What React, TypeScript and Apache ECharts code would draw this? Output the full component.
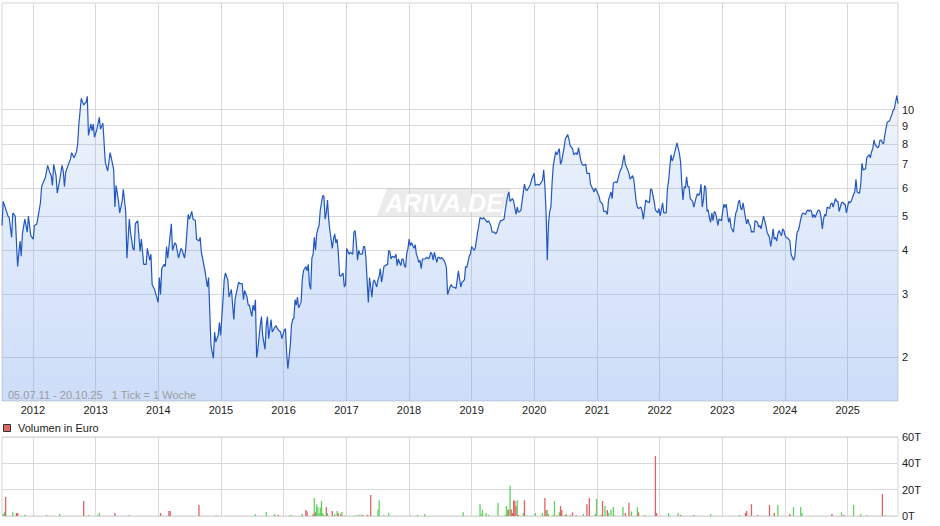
import React, { useEffect, useRef } from 'react';
import * as echarts from 'echarts';

// Weekly closing prices: [week index since 05.07.2011, price]
const priceData: [number, number][] = [
  [0,4.7],[1,5.5],[5,5.0],[6,4.95],[8,4.35],[9,5.1],[11,5.0],[12,4.25],[13,3.6],[15,4.25],[16,3.85],[17,4.45],[19,4.9],[21,4.5],[22,5.0],[24,4.4],[26,4.3],[27,4.7],[29,4.75],[31,5.2],[32,5.45],[33,6.05],[35,6.3],[36,6.4],[38,6.95],[40,6.6],[41,6.5],[42,6.1],[43,7.0],[45,6.5],[46,5.8],[48,6.3],[50,6.95],[51,6.7],[52,6.05],[53,6.65],[55,6.95],[57,7.25],[58,7.55],[60,7.3],[62,7.6],[63,8.0],[64,9.1],[66,10.75],[68,10.3],[70,10.5],[71,10.9],[72,8.45],[74,9.1],[75,8.7],[76,9.1],[77,8.35],[79,8.8],[81,9.5],[82,8.8],[84,9.15],[86,7.1],[88,6.7],[90,7.55],[91,7.3],[93,6.75],[94,5.3],[95,6.1],[97,5.5],[98,5.1],[100,5.5],[101,5.95],[103,5.15],[104,3.8],[106,4.9],[107,4.5],[109,4.05],[110,4.0],[111,4.75],[113,4.85],[115,3.97],[116,4.3],[117,3.97],[118,3.65],[120,3.65],[121,4.05],[123,3.75],[124,3.9],[125,3.2],[127,3.1],[130,2.85],[131,3.35],[132,3.0],[133,3.55],[135,3.65],[136,3.6],[137,4.1],[138,3.8],[141,4.75],[142,4.0],[144,4.2],[145,4.15],[147,3.8],[149,4.05],[150,4.0],[152,3.8],[153,4.05],[155,5.05],[156,4.9],[158,5.15],[159,4.9],[161,4.85],[162,4.3],[164,4.25],[165,4.35],[166,3.95],[168,3.65],[169,3.5],[171,3.15],[172,3.35],[174,2.15],[176,1.98],[177,2.35],[178,2.2],[180,2.3],[181,2.5],[182,2.3],[184,2.9],[185,3.3],[186,3.45],
  [188,3.3],[189,2.95],[191,3.1],[193,2.55],[194,2.9],[197,3.25],[198,3.22],[200,3.22],[201,2.9],[202,3.08],[204,2.95],[205,2.8],[206,2.8],[208,2.6],[209,2.8],[210,2.7],[211,2.9],[212,1.99],[213,2.1],[215,2.45],[216,2.6],[217,2.3],[219,2.1],[220,2.45],[221,2.6],[222,2.25],[224,2.55],[225,2.35],[227,2.42],[228,2.45],[230,2.38],[232,2.35],[233,2.25],[235,2.38],[236,2.4],[237,2.05],[238,1.85],[240,2.15],[241,2.45],[242,2.55],[243,2.57],[244,2.9],[245,2.8],[246,2.95],[247,2.75],[249,2.85],[250,3.3],[251,3.5],[253,3.6],[254,3.5],[255,3.65],[256,3.2],[257,3.1],[258,3.8],[259,3.9],[260,4.35],[261,4.0],[262,4.45],[263,4.6],[264,4.7],[265,5.2],[267,5.7],[268,5.7],[269,4.9],[270,5.1],[271,5.55],[272,4.9],[273,4.55],[275,4.05],[276,4.3],[277,4.45],[278,4.2],[279,4.3],[280,3.95],[281,3.4],[282,3.38],[284,3.45],[285,3.15],[286,3.2],[287,4.05],[289,3.9],[290,3.95],[292,3.9],[293,4.5],[294,4.55],[295,4.2],[296,3.75],[297,4.0],[298,3.9],[300,3.9],[301,4.1],[302,4.1],[303,3.8],[305,2.85],[306,3.35],[307,3.15],[308,2.95],[309,3.25],[310,3.3],[312,3.15],[313,3.3],[314,3.38],[315,3.55],[316,3.25],[317,3.4],[318,3.6],[319,3.62],[321,3.65],[322,4.0],[323,3.95],[324,3.78],[325,3.85],[327,3.82],[328,3.9],[329,3.62],[330,3.78],[332,3.62],[333,3.78],[334,3.78],[335,3.62],[336,3.58],[337,3.92],[338,4.05],[339,4.3],[340,4.12],[341,4.2],[343,4.05],[344,4.15],[345,3.9],[346,3.82],[347,3.7],[348,3.75],[349,3.55],[350,3.78],[352,3.78],[354,3.82],[355,3.78],[356,3.82],[357,3.95],[358,3.9],[359,3.75],[360,3.95],[362,3.7],[363,3.82],[364,3.82],[365,3.78],[366,3.82],[367,3.78],[368,3.75],[369,3.68],[370,3.58],[371,3.0],[373,3.15],[374,3.2],[375,3.15],[376,3.15],[378,3.12],
  [379,3.3],[380,3.5],[382,3.15],[383,3.25],[385,3.3],[386,3.6],[387,3.58],[389,3.85],[390,3.9],[391,4.1],[393,4.0],[394,4.05],[396,4.5],[397,4.7],[398,4.95],[400,4.9],[401,4.95],[403,4.85],[404,4.8],[405,4.85],[407,4.7],[408,4.5],[410,4.5],[411,4.45],[412,4.5],[414,4.75],[415,4.85],[416,4.85],[418,4.9],[419,5.2],[421,5.7],[422,5.85],[423,5.5],[425,5.6],[426,5.5],[428,5.05],[429,5.3],[430,5.12],[432,5.18],[433,5.5],[435,6.15],[436,5.95],[437,5.9],[439,6.05],[440,6.15],[441,6.35],[443,6.6],[444,6.1],[446,6.15],[447,6.1],[448,6.15],[450,6.3],[451,6.75],[452,6.1],[453,5.1],[454,3.75],[455,4.75],[456,5.15],[457,5.3],[458,6.2],[459,6.95],[461,7.6],[462,7.45],[464,7.75],[465,7.0],[466,7.15],[468,7.8],[469,8.25],[471,8.5],[472,8.25],[473,7.9],[475,7.75],[476,7.45],[478,7.55],[479,7.45],[480,7.8],[482,7.15],[483,7.0],[484,6.95],[486,7.0],[487,6.6],[489,6.6],[490,6.15],[491,6.05],[493,5.85],[494,6.0],[496,5.8],[497,5.7],[498,5.5],[500,5.4],[501,5.15],[503,5.15],[504,5.05],[505,5.55],[507,5.85],[508,5.6],[509,6.2],[511,6.25],[512,6.2],[514,6.6],[515,6.75],[516,6.85],[518,7.45],[519,7.0],[521,6.75],[522,6.6],[523,6.35],[525,6.5],[526,6.35],[528,5.5],[529,5.3],[530,5.25],[532,5.3],[533,5.15],[534,4.9],[536,5.55],[537,5.5],[539,5.45],[540,5.95],[541,5.95],[543,5.5],[544,5.2],[546,5.1],[547,5.25],[548,5.0],[550,5.45],[551,5.1],[553,5.1],[554,5.95],[555,6.3],[557,7.45],[558,7.15],[559,7.3],[561,7.8],[562,8.05],
  [564,7.5],[565,7.1],[566,6.15],[567,5.55],[568,6.05],[569,6.0],[570,6.45],[571,6.05],[572,6.05],[573,5.6],[574,5.55],[575,5.5],[576,5.3],[578,5.65],[579,5.78],[580,5.72],[581,5.78],[582,6.15],[583,5.3],[584,5.55],[585,6.1],[586,6.0],[587,5.15],[588,5.2],[589,4.95],[590,4.8],[591,5.1],[592,4.85],[593,5.15],[594,5.1],[595,4.95],[596,4.7],[597,4.9],[599,4.85],[600,5.15],[601,5.4],[602,5.28],[603,5.4],[604,5.05],[605,4.8],[606,4.95],[607,4.65],[609,4.5],[610,4.85],[611,5.1],[612,5.2],[613,5.45],[614,5.55],[615,5.28],[616,5.2],[617,5.45],[619,4.95],[620,4.75],[621,4.9],[622,4.75],[623,4.7],[624,4.5],[625,4.52],[626,4.5],[627,4.85],[629,4.8],[630,4.65],[631,4.7],[632,4.6],[633,4.8],[634,5.0],[635,4.85],[636,4.7],[637,4.5],[639,4.35],[640,4.1],[641,4.3],[642,4.6],[643,4.3],[644,4.35],[645,4.25],[646,4.45],[647,4.55],[649,4.4],[650,4.6],[651,4.55],[652,4.4],[653,4.35],[654,4.33],[655,4.3],[656,4.25],[657,3.9],[659,3.75],[660,3.82],[661,4.2],[662,4.5],[663,4.55],[664,4.7],[665,4.9],[666,5.05],[667,5.1],[669,5.05],[670,5.15],[671,5.2],[672,5.15],[673,5.2],[674,5.15],[675,4.95],[676,5.05],[677,4.95],[679,5.15],[680,5.2],[681,5.15],[682,4.95],[683,4.6],[684,4.9],[685,5.05],[686,5.0],[687,5.3],[689,5.25],[690,5.4],[691,5.45],[692,5.3],[693,5.45],[694,5.6],[695,5.5],[696,5.5],[697,5.15],[699,5.45],[700,5.48],[701,5.4],[702,5.4],[703,5.1],[704,5.3],[705,5.5],[706,5.45],[707,5.5],[709,5.75],[710,5.85],[711,6.35],[712,5.85],[713,5.82],[714,5.8],[715,6.15],[716,7.05],[717,6.75],[719,6.8],[720,7.3],[721,7.38],[722,7.45],[723,7.3],[724,7.6],[725,7.75],[726,8.2],[727,7.95],[729,7.8],[730,7.85],[731,8.2],[732,8.2],[733,8.05],[734,8.0],[735,8.45],[736,8.85],[737,9.2],[739,9.3],[740,9.5],[741,9.7],[742,9.95],[743,10.05],[744,10.5],[745,10.95],[746,10.4]
];

// Weekly volume in thousand euro: [week index, volume (T), direction 1 up / -1 down / 0 flat]
const volumeData: [number, number, number][] = [
  [1,1.5,1],[2,2.8,1],[3,14.4,-1],[9,2.8,1],[12,2.3,-1],[13,2.3,-1],[19,1,1],[27,0.3,1],[37,0.8,1],[48,1.5,1],[68,11.4,-1],[72,0.5,-1],[80,0.5,1],[81,2.3,1],[94,2.3,-1],[106,0.8,1],[132,2.3,-1],[139,3.8,-1],[140,3.8,-1],[164,8.4,-1],[178,0.3,1],[179,0.3,1],[211,1.5,1],[220,3,1],[227,1.5,1],[230,0.7,-1],[240,0.6,1],[241,0.6,1],[250,1.5,1],[253,4.6,-1],[254,3.4,-1],[259,1.5,-1],[260,13.7,1],[261,2.8,-1],[262,9,1],[263,6.8,1],[264,2.3,1],[265,6.4,1],[266,11.4,1],[267,2.3,1],[268,0.8,1],[270,6.8,-1],[271,2.3,1],[275,3.8,-1],[277,1.5,1],[279,3.8,1],[280,2.3,-1],[282,1.5,-1],[283,3,1],[285,0.5,1],[294,0.5,1],[296,0.5,-1],[298,1.2,1],[300,0.5,-1],[301,0.5,1],[304,1,-1],[305,0.5,1],[307,16,-1],[313,5,1],[314,12,1],[318,0.5,-1],[322,2.3,1],[340,0.5,1],[346,1,1],[352,1.5,1],[384,2.8,1],
  [398,9,1],[399,1.5,1],[400,4.6,1],[403,2.3,1],[405,1,1],[413,10,1],[419,0.8,1],[420,7.6,1],[421,4.6,1],[422,5,-1],[423,23,1],[424,5,-1],[425,2.3,-1],[426,12,-1],[427,11.4,-1],[428,7.6,-1],[429,12,1],[430,0.8,-1],[434,2.3,1],[435,12,-1],[437,0.3,1],[444,2.3,1],[450,2.3,1],[452,13.7,-1],[453,4.6,-1],[454,4.6,1],[455,1.5,1],[459,0.8,1],[460,11.4,1],[462,0.5,-1],[464,2.8,1],[465,7.6,-1],[466,4.6,-1],[469,0.8,-1],[470,1.5,1],[473,0.5,-1],[475,2.8,-1],[478,0.5,-1],[484,1.5,1],[487,9,-1],[489,13.7,-1],[494,1.5,1],[495,13,1],[497,0.8,0],[499,0.8,-1],[500,11.4,-1],[502,7.6,1],[504,4.6,-1],[505,2.3,1],[507,5,1],[509,6.8,1],[510,0.5,1],[517,6.8,1],[519,2.3,-1],[522,10,-1],[524,3.5,1],[529,6.8,1],[530,2.8,-1],[535,0.8,1],[544,45.6,-1],[545,2.3,-1],[555,2.3,1],[563,2.3,1],[565,0.8,-1],[576,0.8,-1],[590,1.5,1],[614,0.8,1],[619,2.3,-1],[620,3.8,-1],[624,9,-1],[629,0.8,-1],[639,8.4,-1],[643,2.3,-1],[646,8.4,1],[656,1.5,-1],[659,6.8,1],[665,6.8,1],[666,2.3,1],[691,1.5,-1],[699,2.8,1],[701,0.8,-1],[709,8.4,1],[715,1.5,1],[720,0.8,1],[733,16.7,-1],[735,0.5,1]
];

const yearTicks = [2012, 2013, 2014, 2015, 2016, 2017, 2018, 2019, 2020, 2021, 2022, 2023, 2024, 2025];
const priceTicks = [2, 3, 4, 5, 6, 7, 8, 9, 10];
const priceRange = [1.5, 20];
const volumeTicks = [0, 20, 40, 60];
const periodText = '05.07.11 - 20.10.25   1 Tick = 1 Woche';
const volumeLegend = 'Volumen in Euro';
const watermarkText = 'ARIVA.DE';

const START = Date.UTC(2011, 6, 5);
const WEEK_MS = 7 * 24 * 3600 * 1000;

export default function App() {
  const ref = useRef<HTMLDivElement>(null);

  useEffect(() => {
    const chart = echarts.init(ref.current as HTMLDivElement, null, { renderer: 'svg' });
    const font = '"Liberation Sans", Arial, Helvetica, sans-serif';
    const toTime = (w: number) => START + w * WEEK_MS;
    const xMin = START;
    const xMax = toTime(priceData[priceData.length - 1][0]);
    const yearTimes = yearTicks.map((y) => Date.UTC(y, 0, 1));
    const logTicks = priceTicks.map((v) => Math.log10(v));
    const gridLine = { show: true, lineStyle: { color: '#d9d9d9', width: 1 } };

    const xAxis = (gridIndex: number, showLabels: boolean) => ({
      type: 'value',
      gridIndex,
      min: xMin,
      max: xMax,
      axisLine: { show: false },
      axisTick: { show: false, customValues: yearTimes },
      axisLabel: {
        show: showLabels,
        customValues: yearTimes,
        formatter: (v: number) => String(new Date(v).getUTCFullYear()),
        color: '#222',
        fontSize: 11,
        fontFamily: font,
        margin: 3,
      },
      splitLine: gridLine,
    });

    chart.setOption({
      animation: false,
      backgroundColor: '#fff',
      grid: [
        { left: 2, top: 3, right: 42, bottom: 125, show: true, borderColor: '#d4d4d4', borderWidth: 1 },
        { left: 2, top: 437, right: 42, bottom: 10, show: true, borderColor: '#d4d4d4', borderWidth: 1 },
      ],
      xAxis: [xAxis(0, true), xAxis(1, false)],
      yAxis: [
        {
          type: 'value',
          gridIndex: 0,
          position: 'right',
          min: Math.log10(priceRange[0]),
          max: Math.log10(priceRange[1]),
          axisLine: { show: false },
          axisTick: { show: false, customValues: logTicks },
          axisLabel: {
            customValues: logTicks,
            formatter: (v: number) => String(Math.round(Math.pow(10, v))),
            color: '#222',
            fontSize: 11,
            fontFamily: font,
            margin: 4,
          },
          splitLine: gridLine,
        },
        {
          type: 'value',
          gridIndex: 1,
          position: 'right',
          min: volumeTicks[0],
          max: volumeTicks[volumeTicks.length - 1],
          interval: 20,
          axisLine: { show: false },
          axisTick: { show: false },
          axisLabel: {
            formatter: (v: number) => v + 'T',
            color: '#222',
            fontSize: 11,
            fontFamily: font,
            margin: 4,
          },
          splitLine: gridLine,
        },
      ],
      graphic: [
        {
          type: 'polygon',
          z: 1,
          shape: { points: [[387, 188], [511, 188], [501, 216], [377, 216]] },
          style: { fill: 'rgba(190,190,190,0.3)' },
        },
        {
          type: 'text',
          z: 1,
          x: 444,
          y: 203,
          style: {
            text: watermarkText,
            fill: '#ffffff',
            font: 'italic bold 25px ' + font,
            align: 'center',
            verticalAlign: 'middle',
          },
        },
        {
          type: 'text',
          z: 5,
          x: 8,
          y: 395,
          style: {
            text: periodText,
            fill: '#9c9c9c',
            font: '11px ' + font,
            verticalAlign: 'middle',
          },
        },
        {
          type: 'rect',
          z: 5,
          shape: { x: 3.5, y: 424.5, width: 7, height: 7 },
          style: { fill: '#e06666', stroke: '#333', lineWidth: 1 },
        },
        {
          type: 'text',
          z: 5,
          x: 18,
          y: 428,
          style: {
            text: volumeLegend,
            fill: '#222',
            font: '11px ' + font,
            verticalAlign: 'middle',
          },
        },
      ],
      series: [
        {
          type: 'line',
          xAxisIndex: 0,
          yAxisIndex: 0,
          data: priceData.map(([w, v]) => [toTime(w), Math.log10(v)]),
          showSymbol: false,
          symbol: 'none',
          lineStyle: { color: '#2257c0', width: 1.2 },
          areaStyle: {
            origin: 'start',
            color: new echarts.graphic.LinearGradient(0, 0, 0, 1, [
              { offset: 0, color: 'rgba(100,150,235,0.15)' },
              { offset: 1, color: 'rgba(100,150,235,0.46)' },
            ]),
          },
          z: 3,
        },
        {
          type: 'bar',
          xAxisIndex: 1,
          yAxisIndex: 1,
          barWidth: 1.3,
          data: volumeData.map(([w, v, d]) => ({
            value: [toTime(w), v],
            itemStyle: { color: d > 0 ? '#5fd35f' : d < 0 ? '#e06262' : '#cccccc' },
          })),
          z: 3,
        },
      ],
    });

    return () => chart.dispose();
  }, []);

  return (
    <div
      ref={ref}
      style={{ position: 'fixed', left: 0, top: 0, width: 940, height: 526, background: '#fff' }}
    />
  );
}
